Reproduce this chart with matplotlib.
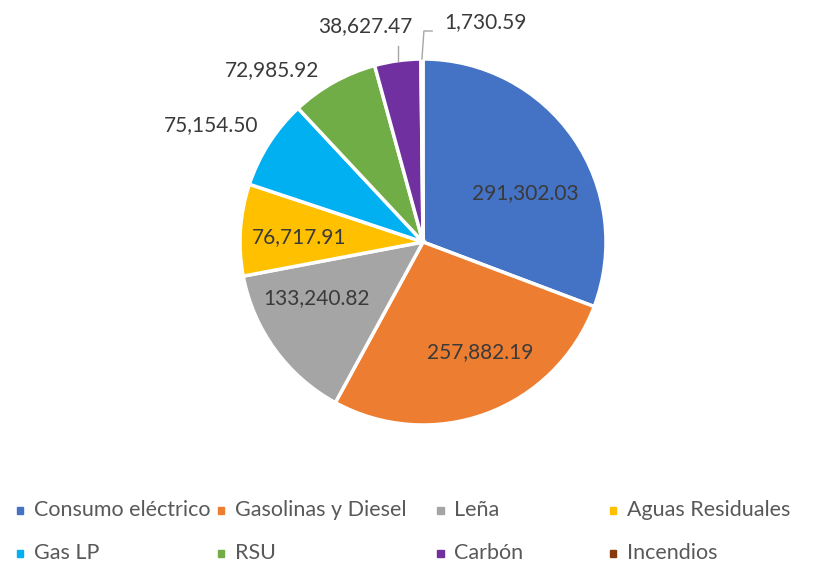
import numpy as np
import matplotlib
matplotlib.use("Agg")
import matplotlib.pyplot as plt
from matplotlib.patches import Rectangle

plt.rcParams['font.family'] = ['Lato', 'DejaVu Sans']

categories = ["Consumo eléctrico", "Gasolinas y Diesel", "Leña", "Aguas Residuales",
              "Gas LP", "RSU", "Carbón", "Incendios"]
values = [291302.03, 257882.19, 133240.82, 76717.91, 75154.50, 72985.92, 38627.47, 1730.59]
colors = ["#4472C4", "#ED7D31", "#A5A5A5", "#FFC000", "#00B0F0", "#70AD47", "#7030A0", "#843C0C"]

# label placement: radius fraction and angle shift (deg, clockwise) from wedge middle
label_r = [0.62, 0.68, 0.66, 0.68, 1.32, 1.25, 1.22, 1.25]
label_shift = [9, -7, 8.4, -1.5, -3.8, -12.1, -7.1, 16.3]

W, H = 829, 565
cx, cy, R = 423, 242, 183

fig = plt.figure(figsize=(W / 100, H / 100), dpi=100)
ax = fig.add_axes([(cx - R) / W, (H - cy - R) / H, 2 * R / W, 2 * R / H])
ax.pie(values, colors=colors, startangle=90, counterclock=False, radius=1,
       wedgeprops=dict(edgecolor="white", linewidth=2.5))
ax.set_xlim(-1, 1)
ax.set_ylim(-1, 1)
ax.set_aspect("equal")
ax.axis("off")

total = sum(values)
start = 0.0
for i, v in enumerate(values):
    span = v / total * 360
    mid = start + span / 2
    start += span
    a = np.radians(mid + label_shift[i])
    x, y = label_r[i] * np.sin(a), label_r[i] * np.cos(a)
    ax.text(x, y, f"{v:,.2f}", ha="center", va="center", fontsize=15,
            color="#3a3a3a", clip_on=False)
    if i == 6:
        m = np.radians(mid)
        ax.plot([np.sin(m), np.sin(m)], [np.cos(m), 1.07], color="#A6A6A6",
                lw=1, clip_on=False)
    if i == 7:
        m = np.radians(mid)
        ax.plot([np.sin(m), 0.005, 0.05], [np.cos(m), 1.153, 1.153], color="#A6A6A6",
                lw=1, clip_on=False)

# legend, laid out like the spreadsheet one
col_x = [17, 218, 437, 610]
row_y = [510, 553]
for i, name in enumerate(categories):
    px = col_x[i % 4]
    py = row_y[i // 4]
    fig.add_artist(Rectangle((px / W, (H - py - 3.5) / H), 6.5 / W, 6.5 / H,
                             transform=fig.transFigure, color=colors[i]))
    fig.text((px + 17) / W, (H - py) / H, name, ha="left", va="center",
             fontsize=15.5, color="#595959")

fig.savefig("out.png", dpi=100)
